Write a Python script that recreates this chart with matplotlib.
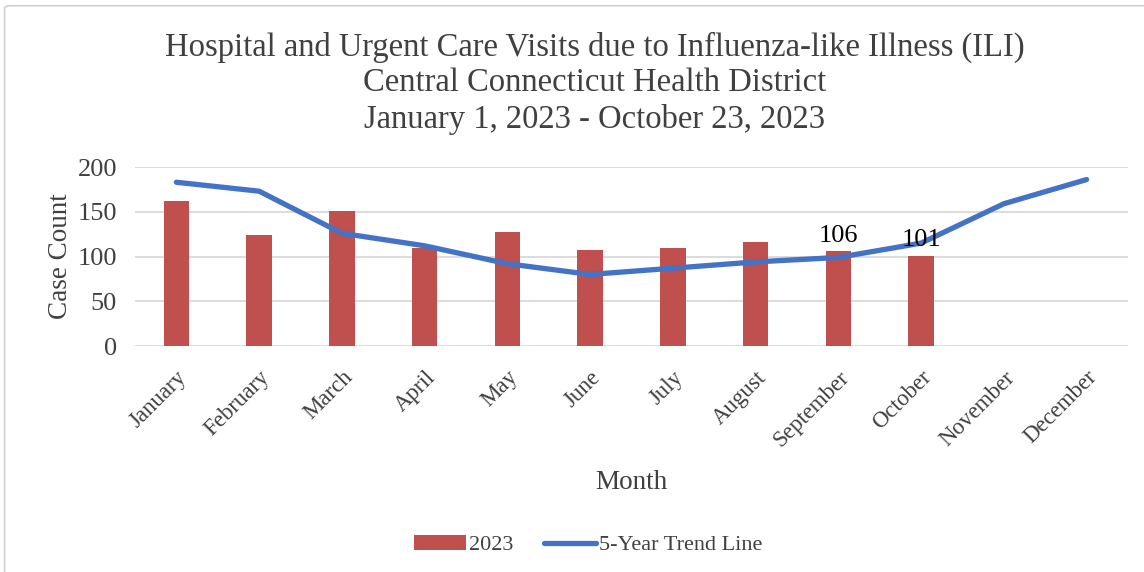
import numpy as np
import matplotlib.pyplot as plt
from matplotlib.patches import FancyBboxPatch

plt.rcParams['font.family'] = ['Liberation Serif', 'DejaVu Serif']

months = ["January", "February", "March", "April", "May", "June", "July",
          "August", "September", "October", "November", "December"]
visits_2023 = [162, 124, 151, 110, 127, 107, 110, 116, 106, 101]
trend_5yr = [183, 173, 126, 112, 92, 80, 87, 94, 99, 115, 159, 186]
labelled = {8: 106, 9: 101}

fig = plt.figure(figsize=(11.44, 5.72), dpi=100)

# chart frame
fig.patches.append(FancyBboxPatch((0.004, -0.02), 1.02, 1.01, transform=fig.transFigure,
                                  boxstyle="round,pad=0,rounding_size=0.005",
                                  fc="white", ec="#D0D0D0", lw=1.2, zorder=-5))

ax = fig.add_axes([0.118, 0.395, 0.868, 0.313])
ax.patch.set_alpha(0)
x = np.arange(len(months))
bars = ax.bar(x[:len(visits_2023)], visits_2023, width=0.31, color="#C0504D",
              label="2023", zorder=2)
line, = ax.plot(x, trend_5yr, color="#4472C4", lw=3.8, solid_capstyle="round",
                label="5-Year Trend Line", zorder=3)

for i, v in labelled.items():
    ax.text(i, v + 5, str(v), ha="center", va="bottom", fontsize=19, color="black", zorder=4)

ax.set_ylim(0, 200)
ax.set_xlim(-0.5, 11.5)
ax.set_yticks([0, 50, 100, 150, 200])
ax.yaxis.grid(True, color="#D9D9D9", lw=1.3, zorder=0)
ax.set_axisbelow(True)
for s in ax.spines.values():
    s.set_visible(False)
ax.tick_params(axis="y", length=0, labelsize=19, colors="#404040", pad=13)
ax.set_xticks(x)
ax.set_xticklabels(months, rotation=45, ha="right", rotation_mode="anchor",
                   fontsize=16.5, color="#404040")
ax.tick_params(axis="x", length=0, pad=15)
ax.set_ylabel("Case Count", fontsize=19.5, color="#404040", labelpad=3)
ax.set_xlabel("Month", fontsize=19.5, color="#404040", labelpad=14)

fig.text(0.52, 0.945, "Hospital and Urgent Care Visits due to Influenza-like Illness (ILI)\n"
         "Central Connecticut Health District\nJanuary 1, 2023 - October 23, 2023",
         ha="center", va="top", fontsize=23.5, color="#404040", linespacing=1.22)

fig.legend(handles=[bars, line], loc="center", bbox_to_anchor=(0.514, 0.047), ncol=2,
           frameon=False, fontsize=16, handlelength=2.35, columnspacing=1.4,
           handletextpad=0.1, labelcolor="#404040")

fig.savefig("out.png", dpi=100)
